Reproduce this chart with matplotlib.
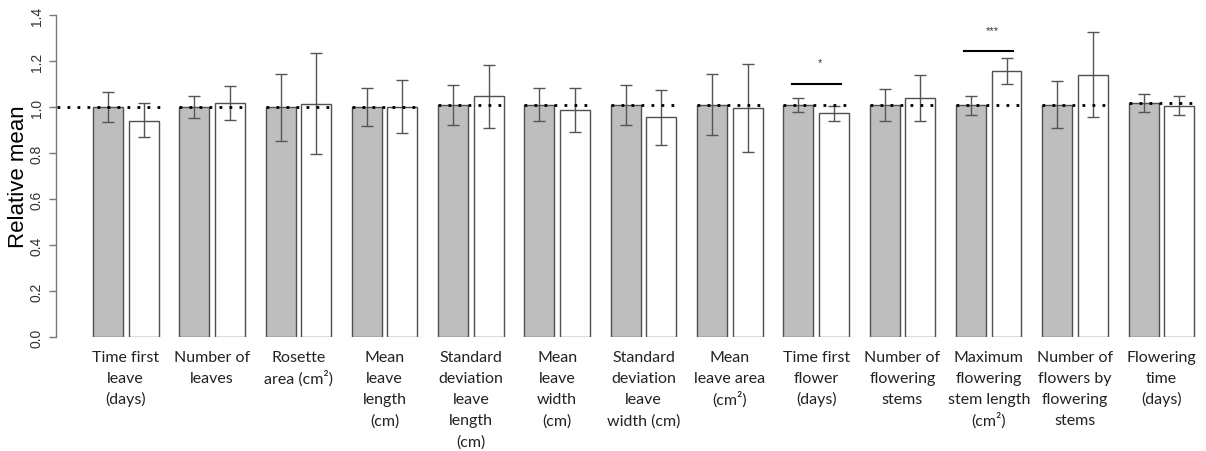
import matplotlib
matplotlib.use("Agg")
import matplotlib.pyplot as plt
import numpy as np

categories = [
    "Time first\nleave\n(days)",
    "Number of\nleaves",
    "Rosette\narea (cm²)",
    "Mean\nleave\nlength\n(cm)",
    "Standard\ndeviation\nleave\nlength\n(cm)",
    "Mean\nleave\nwidth\n(cm)",
    "Standard\ndeviation\nleave\nwidth (cm)",
    "Mean\nleave area\n(cm²)",
    "Time first\nflower\n(days)",
    "Number of\nflowering\nstems",
    "Maximum\nflowering\nstem length\n(cm²)",
    "Number of\nflowers by\nflowering\nstems",
    "Flowering\ntime\n(days)",
]

gray_mean = [1.000, 1.000, 1.000, 1.000, 1.009, 1.009, 1.009, 1.010, 1.010, 1.010, 1.010, 1.010, 1.017]
gray_low  = [0.935, 0.954, 0.854, 0.919, 0.925, 0.939, 0.925, 0.878, 0.978, 0.939, 0.968, 0.912, 0.978]
gray_high = [1.068, 1.049, 1.146, 1.083, 1.096, 1.083, 1.096, 1.146, 1.042, 1.081, 1.049, 1.114, 1.057]

white_mean = [0.942, 1.020, 1.016, 1.000, 1.048, 0.988, 0.959, 0.996, 0.974, 1.042, 1.158, 1.142, 1.007]
white_low  = [0.870, 0.946, 0.797, 0.888, 0.912, 0.893, 0.836, 0.804, 0.939, 0.939, 1.101, 0.959, 0.968]
white_high = [1.019, 1.093, 1.235, 1.117, 1.186, 1.083, 1.077, 1.187, 1.006, 1.142, 1.214, 1.326, 1.051]

# significance annotations
sig_groups = [8, 10]
sig_line_y = [1.100, 1.243]
sig_text_y = [1.197, 1.336]
sig_labels = ["*", "***"]

yticks = [0.0, 0.2, 0.4, 0.6, 0.8, 1.0, 1.2, 1.4]

W, H = 1206, 452
PX = 72 / 100  # points per pixel
fig = plt.figure(figsize=(W / 100, H / 100), dpi=100)
ax = fig.add_axes([56 / W, (H - 338.3) / H, (W - 56) / W, (338.3 - 16.3) / H])

pitch = 86.3
x = np.arange(len(categories))
off = 17.8 / pitch
bw = 30 / pitch

edge = "#505050"
gm = np.array(gray_mean); wm = np.array(white_mean)
ax.bar(x - off, gm, width=bw, color="#bebebe", edgecolor=edge, linewidth=1.0, zorder=2)
ax.bar(x + off, wm, width=bw, color="white", edgecolor=edge, linewidth=1.0, zorder=2)

ax.errorbar(x - off, gm, yerr=[gm - np.array(gray_low), np.array(gray_high) - gm],
            fmt="none", ecolor="#555555", elinewidth=1.0, capsize=6 * PX, capthick=1.0, zorder=3)
ax.errorbar(x + off, wm, yerr=[wm - np.array(white_low), np.array(white_high) - wm],
            fmt="none", ecolor="#555555", elinewidth=1.0, capsize=6 * PX, capthick=1.0, zorder=3)

# dotted reference lines per group
for i in x:
    left = i - off - bw / 2
    if i == 0:
        left = (57 - 125.7) / pitch
    right = i + off + bw / 2 + 3 / pitch
    ax.plot([left, right], [gm[i], gm[i]], color="black", linestyle=(0, (1, 2.6)),
            linewidth=2.0, zorder=4, solid_capstyle="butt")

for g, ly, ty, lab in zip(sig_groups, sig_line_y, sig_text_y, sig_labels):
    ax.plot([g - 0.285, g + 0.285], [ly, ly], color="black", linewidth=1.5, zorder=4)
    ax.text(g + 0.04, ty, lab, ha="center", va="center", fontsize=8, color="#333333",
            family="Liberation Sans")

ax.set_xlim((56 - 125.7) / pitch, (W - 125.7) / pitch)
ax.set_ylim(0, 1.4)

for s in ["top", "right", "bottom"]:
    ax.spines[s].set_visible(False)
ax.spines["left"].set_color("#777777")
ax.spines["left"].set_linewidth(1.0)

ax.set_yticks(yticks)
ax.set_yticklabels([f"{v:.1f}" for v in yticks], rotation=90, va="center", ha="center",
                   family="Liberation Sans", fontsize=10, color="#333333")
ax.tick_params(axis="y", length=7 * PX, width=1.0, color="#777777", pad=12 * PX)

# category labels, one line at a time for even line spacing
ax.set_xticks(x)
ax.set_xticklabels([""] * len(categories))
ax.tick_params(axis="x", length=0)
for i, lab in enumerate(categories):
    for j, line in enumerate(lab.split("\n")):
        ax.annotate(line, xy=(i, 0), xycoords=("data", "axes fraction"),
                    xytext=(0, -(24 + 21 * j)), textcoords="offset pixels",
                    ha="center", va="baseline", fontsize=11.5, family="Lato",
                    color="#222222", annotation_clip=False)

fig.text(19 / W, (H - 177) / H, "Relative mean", rotation=90, ha="center", va="center",
         fontsize=16, family="Liberation Sans", color="black")

fig.savefig("out.png", dpi=100)
